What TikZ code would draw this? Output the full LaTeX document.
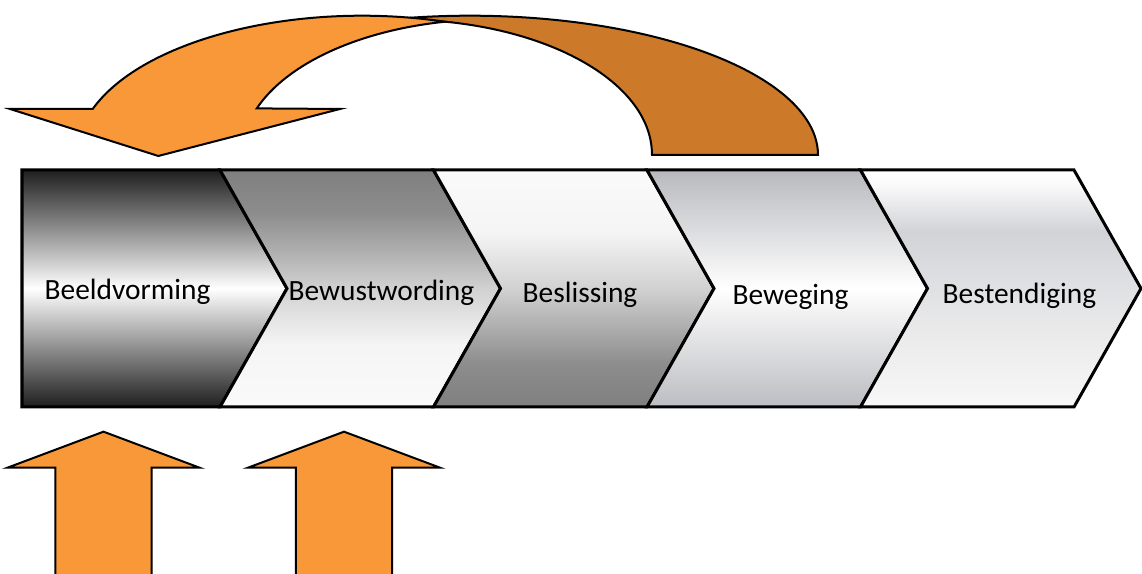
\documentclass[tikz,border=0pt]{standalone}
\usepackage{fontspec}
\setmainfont{Carlito}

\definecolor{arroworange}{RGB}{248,152,56}
\definecolor{arrowbrown}{RGB}{204,122,42}

% vertical shadings, 25bp = bottom of the shape, 75bp = top
\pgfdeclareverticalshading{beeldshade}{100bp}{%
  color(0bp)=(black!88); color(25bp)=(black!88); color(50bp)=(white);
  color(75bp)=(black!88); color(100bp)=(black!88)}
\pgfdeclareverticalshading{bewustshade}{100bp}{%
  color(0bp)=(black!2); color(25bp)=(black!2); color(38bp)=(black!4);
  color(50bp)=(black!18); color(66bp)=(black!45); color(75bp)=(black!50);
  color(100bp)=(black!50)}
\pgfdeclareverticalshading{beslisshade}{100bp}{%
  color(0bp)=(black!50); color(25bp)=(black!50); color(34bp)=(black!45);
  color(50bp)=(black!18); color(62bp)=(black!4); color(75bp)=(black!2);
  color(100bp)=(black!2)}
\pgfdeclareverticalshading{bewegshade}{100bp}{%
  color(0bp)=(rgb,255:red,188;green,189;blue,194); color(25bp)=(rgb,255:red,188;green,189;blue,194);
  color(50bp)=(white);
  color(75bp)=(rgb,255:red,184;green,185;blue,190); color(100bp)=(rgb,255:red,184;green,185;blue,190)}
\pgfdeclareverticalshading{bestenshade}{100bp}{%
  color(0bp)=(black!3); color(25bp)=(black!3); color(40bp)=(black!8);
  color(52bp)=(rgb,255:red,222;green,223;blue,226); color(62bp)=(rgb,255:red,210;green,211;blue,215);
  color(72bp)=(black!2); color(75bp)=(white); color(100bp)=(white)}

\tikzset{
  chevron/.style={draw=black, line width=0.03cm, line join=miter},
  curvearrow/.style={draw=black, line width=0.02cm, line join=miter},
  uparrow/.style={draw=black, fill=arroworange, line width=0.02cm, line join=miter},
  stagetext/.style={font=\fontsize{8.36}{10}\selectfont, inner sep=0pt, anchor=base west}
}

\begin{document}
\begin{tikzpicture}[x=0.01cm, y=0.01cm]
  \clip (0,0) rectangle (1142,574);

  % Chevron bar
  \shadedraw[chevron, shading=beeldshade]
    (22,404) -- (220,404) -- (287,285.5) -- (220,167) -- (22,167) -- cycle;
  \foreach \k/\shd in {2/bewustshade,3/beslisshade,4/bewegshade,5/bestenshade} {
    \pgfmathsetmacro{\xl}{220+213.5*(\k-2)}
    \pgfmathsetmacro{\xr}{\xl+213.5}
    \shadedraw[chevron, shading=\shd]
      (\xl,404) -- (\xr,404) -- ({\xr+67},285.5) -- (\xr,167) -- (\xl,167) -- ({\xl+67},285.5) -- cycle;
  }

  % Stage labels
  \node[stagetext] (beeld)  at (44,274.5) {Beeldvorming};
  \node[stagetext] (bewust) at (288,273)  {Bewustwording};
  \node[stagetext] (beslis) at (522,271)  {Beslissing};
  \node[stagetext] (beweg)  at (732,269)  {Beweging};
  \node[stagetext] (besten) at (942,270)  {Bestendiging};

  % Curved arrow back to the start: back band first, front band on top
  \coordinate (cross) at (445,552.3);
  \draw[curvearrow, fill=arrowbrown]
    (652,419) -- (818,419)
    arc[start angle=0, end angle=101.6, x radius=348, y radius=139.3]
    -- (cross)
    arc[start angle=79.7, end angle=0, x radius=252, y radius=135] -- cycle;
  \draw[curvearrow, fill=arroworange]
    (92.7,465)
    arc[start angle=160.7, end angle=73.1, x radius=285.4, y radius=139.3]
    arc[start angle=100.8, end angle=160.1, x radius=250, y radius=135]
    -- (340,465) -- (158.3,418) -- (10,465) -- cycle;

  % Input arrows from below
  \foreach \cx in {103.5,344}
    \draw[uparrow] ({\cx-48.2},-5) -- ({\cx-48.2},106.3) -- ({\cx-96},106.3) -- (\cx,142.3)
      -- ({\cx+96},106.3) -- ({\cx+48.2},106.3) -- ({\cx+48.2},-5) -- cycle;
\end{tikzpicture}
\end{document}
